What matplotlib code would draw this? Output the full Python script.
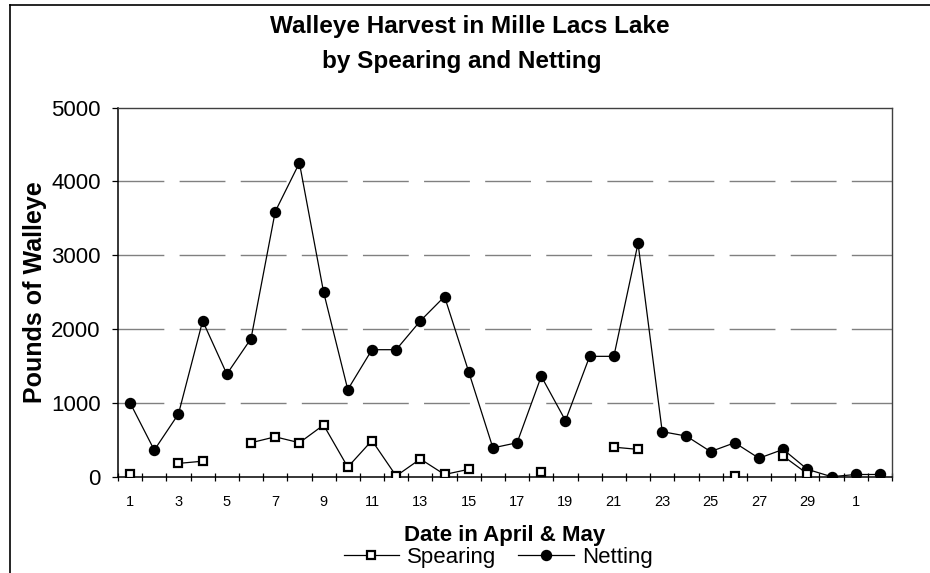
import numpy as np
import matplotlib
matplotlib.use("Agg")
import matplotlib.pyplot as plt
from matplotlib.lines import Line2D

plt.rcParams["font.family"] = ["Liberation Sans", "DejaVu Sans"]

# day index 1..32 = April 1..30, May 1..2
days = np.arange(1, 33)
tick_labels = ["1", "3", "5", "7", "9", "11", "13", "15", "17", "19", "21",
               "23", "25", "27", "29", "1"]

nan = np.nan
netting = [1000, 360, 850, 2110, 1390, 1870, 3590, 4250, 2500, 1180,
           1720, 1720, 2110, 2440, 1420, 390, 460, 1360, 760, 1630,
           1630, 3160, 610, 550, 340, 460, 250, 370, 100, 0,
           30, 30]
spearing = [30, nan, 180, 210, nan, 460, 540, 460, 700, 130,
            490, 10, 240, 30, 100, nan, nan, 60, nan, nan,
            400, 370, nan, nan, nan, 10, nan, 280, 40, nan,
            nan, nan]

W, H = 930, 573
fig = plt.figure(figsize=(W / 100, H / 100), dpi=100)
ax = fig.add_axes([118 / W, 1 - 476.7 / H, 774 / W, 369.2 / H])

# outer chart border (left and top edges visible)
fig.add_artist(Line2D([10 / W, 10 / W], [0, 1 - 5 / H], color="black",
                      lw=1.2, transform=fig.transFigure))
fig.add_artist(Line2D([10 / W, 1], [1 - 5 / H, 1 - 5 / H], color="black",
                      lw=1.2, transform=fig.transFigure))

ax.plot(days, netting, "-", color="black", lw=0.9, marker="o", ms=7.2,
        mfc="black", mec="black", label="Netting", zorder=3)
ax.plot(days, spearing, "-", color="black", lw=0.9, marker="s", ms=6,
        mfc="white", mec="black", mew=1.6, label="Spearing", zorder=4)

ax.set_xlim(0.5, 32.5)
ax.set_ylim(0, 5000)
ax.set_yticks(np.arange(0, 5001, 1000))
ax.set_xticks(days[::2])
ax.set_xticklabels(tick_labels, fontsize=10.5)
ax.set_xticks(np.arange(0.5, 33, 1), minor=True)
ax.tick_params(axis="x", which="major", length=0, pad=13)
ax.tick_params(axis="x", which="minor", direction="inout", length=6, width=0.9)
ax.tick_params(axis="y", direction="out", length=4.5, width=0.9, pad=8,
               labelsize=16)

for y in range(1000, 5000, 1000):
    ax.axhline(y, color="#808080", lw=1.0, dashes=(33, 11), zorder=1)

for s in ("left", "bottom"):
    ax.spines[s].set_color("black")
    ax.spines[s].set_linewidth(1.1)
for s in ("top", "right"):
    ax.spines[s].set_color("#404040")
    ax.spines[s].set_linewidth(1.0)

ax.set_ylabel("Pounds of Walleye", fontsize=18, fontweight="bold")
ax.yaxis.set_label_coords((47 - 118) / 774, 0.5)

fig.text(505 / W, 1 - 541 / H, "Date in April & May", ha="center",
         va="baseline", fontsize=16, fontweight="bold")

fig.text(470 / W, 1 - 33 / H, "Walleye Harvest in Mille Lacs Lake",
         ha="center", va="baseline", fontsize=17.5, fontweight="bold")
fig.text(462 / W, 1 - 68 / H, "by Spearing and Netting",
         ha="center", va="baseline", fontsize=17.5, fontweight="bold")

h, l = ax.get_legend_handles_labels()
fig.legend(h[::-1], l[::-1], loc="center", bbox_to_anchor=(498 / W, 1 - 557 / H),
           ncol=2, frameon=False, fontsize=16, handlelength=2.5,
           handletextpad=0.35, columnspacing=1.0, borderpad=0)

fig.savefig("out.png", dpi=100)
